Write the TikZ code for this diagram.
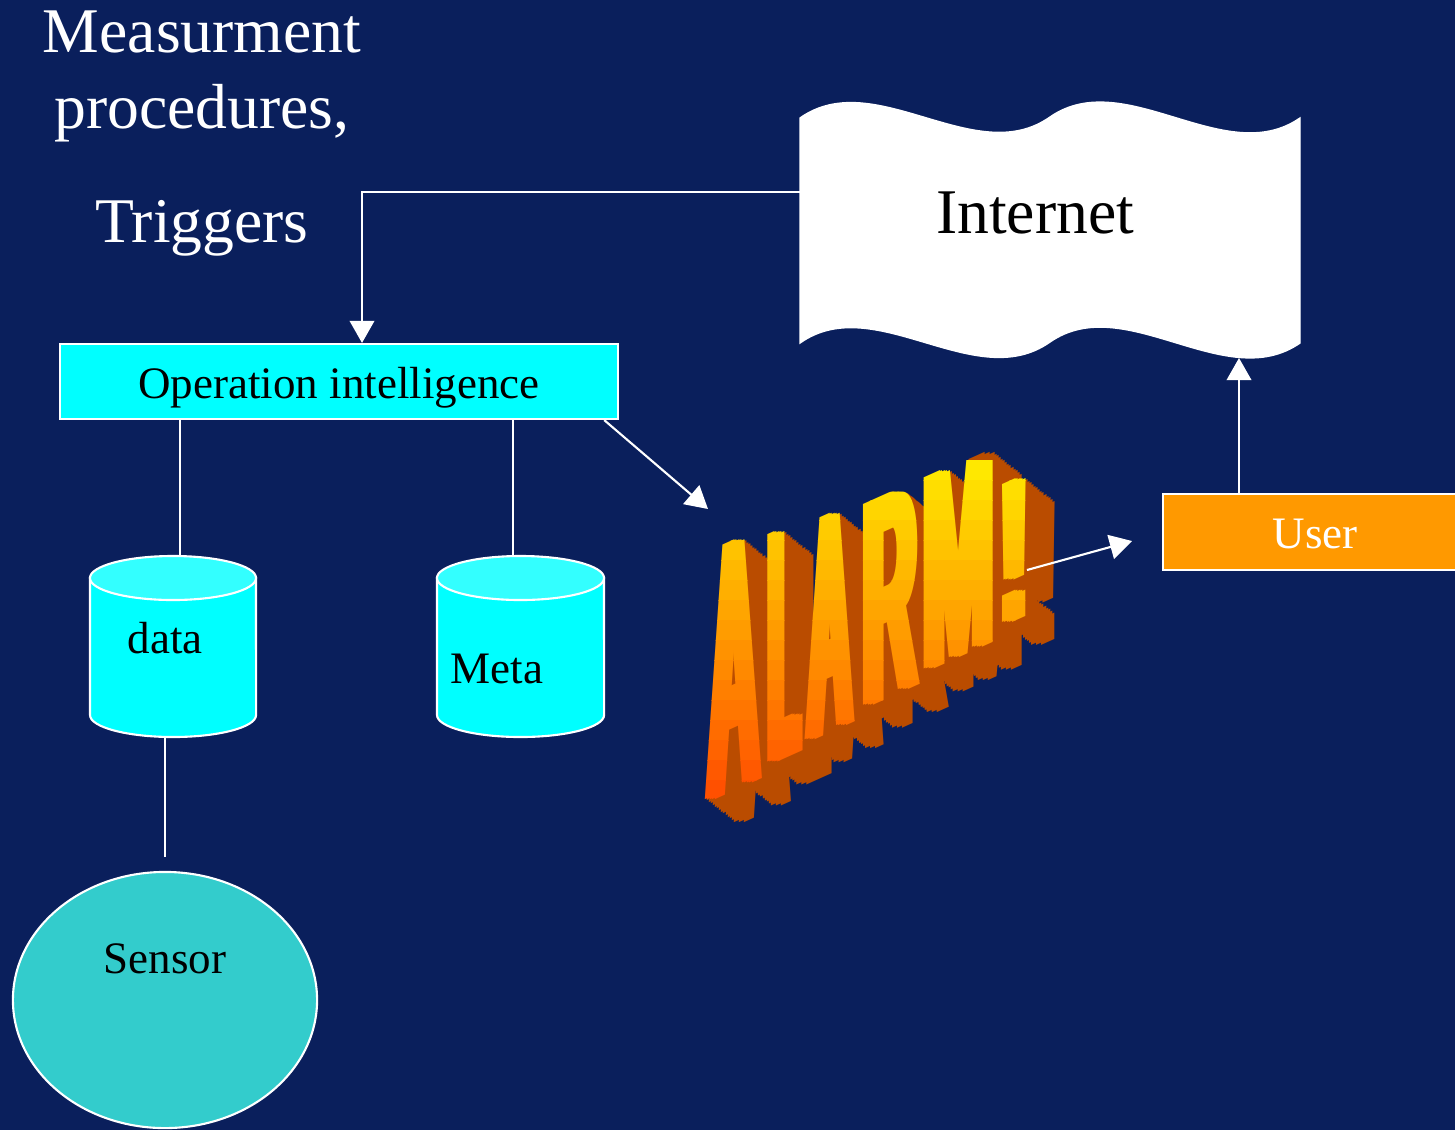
\documentclass[tikz,border=0pt]{standalone}
\usepackage{fontspec}
\setmainfont{Liberation Serif}
\newfontfamily\alarmfamily{Liberation Sans}
\usepackage{tikz}
\usetikzlibrary{arrows.meta, shapes.geometric, positioning}

\definecolor{slidebg}{RGB}{10,31,92}
\definecolor{opcyan}{RGB}{0,255,255}
\definecolor{dbtopcyan}{RGB}{51,255,255}
\definecolor{sensorteal}{RGB}{51,204,204}
\definecolor{userorange}{RGB}{255,153,0}
\definecolor{alarmtop}{RGB}{255,232,0}
\definecolor{alarmbot}{RGB}{255,70,0}
\definecolor{alarmside}{RGB}{186,76,0}

\newcommand{\alarmfont}{\alarmfamily\bfseries\fontsize{100}{100}\selectfont}
% letter / left x / baseline y / xscale / yscale
\newcommand{\alarmletters}{A/703/800/0.20/1.02, L/764/763/0.14/0.94, A/803/740/0.17/0.89, R/858/707/0.21/0.83, M/918/671/0.24/0.79, !/993/626/0.27/0.57}

\begin{document}
\begin{tikzpicture}[x=0.01cm, y=-0.01cm,
    link/.style={white, line width=0.6pt},
    arr/.style={link, -{Triangle[length=6.3pt, width=7pt]}},
    bigtext/.style={font=\fontsize{18.1}{21.6}\selectfont},
    smalltext/.style={font=\fontsize{12.8}{15}\selectfont},
    opbox/.style={draw=white, line width=0.6pt, fill=opcyan, smalltext, minimum width=5.58cm, minimum height=0.75cm, text height=0.33cm, text depth=0pt, inner sep=0pt},
    userbox/.style={draw=white, line width=0.6pt, fill=userorange, text=white, smalltext, minimum width=3.04cm, minimum height=0.76cm, text height=0.33cm, text depth=0pt, inner sep=0pt},
    dbbody/.style={draw=white, line width=0.6pt, fill=opcyan},
    dbtop/.style={draw=white, line width=0.6pt, fill=dbtopcyan},
    sensorell/.style={ellipse, draw=white, line width=0.6pt, fill=sensorteal, minimum width=3.04cm, minimum height=2.56cm, inner sep=0pt},
    alarmletter/.style={font=\alarmfont, anchor=base west, inner sep=0pt, outer sep=0pt, transform shape}]

    % Slide background
    \useasboundingbox (0,0) rectangle (1455,1130);
    \fill[slidebg] (0,0) rectangle (1455,1130);

    % Heading
    \node[bigtext, text=white, align=center, anchor=north, inner sep=0pt] (title) at (202,10) {Measurment\\procedures,\\[11pt]Triggers};

    % Internet banner
    \filldraw[fill=white, draw=white] (800,118) .. controls (875,65) and (975,170) .. (1050,117)
        .. controls (1125,65) and (1225,170) .. (1300,118) -- (1300,343)
        .. controls (1225,395) and (1125,290) .. (1050,342)
        .. controls (975,395) and (875,290) .. (800,343) -- cycle;
    \node[bigtext, anchor=base] (inet) at (1035,233) {Internet};
    \coordinate (inetwest) at (800,192);
    \coordinate (inetbot) at (1239,358);

    % Operation intelligence
    \node[opbox] (opint) at (339,381.5) {Operation intelligence};
    \draw[arr] (inetwest) -| ([xshift=0.23cm]opint.north);

    % Data stores
    \filldraw[dbbody] (90,578) -- (90,715) arc[start angle=180, end angle=360, x radius=0.83cm, y radius=0.22cm] -- (256,578) -- cycle;
    \filldraw[dbtop] (173,578) ellipse [x radius=0.83cm, y radius=0.22cm];
    \filldraw[dbbody] (437,578) -- (437,715) arc[start angle=180, end angle=360, x radius=0.835cm, y radius=0.22cm] -- (604,578) -- cycle;
    \filldraw[dbtop] (520.5,578) ellipse [x radius=0.835cm, y radius=0.22cm];
    \node[smalltext, anchor=base] (datalbl) at (165,653) {data};
    \node[smalltext, anchor=base] (metalbl) at (497,683) {Meta};
    \coordinate (datatop) at (180,556);
    \coordinate (databot) at (165,737);
    \coordinate (metatop) at (513,556);
    \draw[link] (opint.south -| datatop) -- (datatop);
    \draw[link] (opint.south -| metatop) -- (metatop);

    % Sensor
    \node[sensorell] (sensor) at (165,1000) {};
    \node[smalltext, anchor=base] (sensorlbl) at (165,973) {Sensor};
    \draw[link] (databot) -- ([yshift=0.14cm]sensor.north);

    % ALARM! extrusion
    \foreach \ltr/\px/\py/\sx/\sy [count=\i] in \alarmletters
        \foreach \k in {14,...,1}
            \foreach \dx in {0,5,10}
                \node[alarmletter, text=alarmside, shift={(\px+\dx+2.1*\k,\py+1.65*\k)}, yslant=0.45, xscale=\sx, yscale=\sy] (alarmext\i-\k) at (0,0) {\ltr};
    % ALARM! front, shaded in bands
    \foreach \b in {0,...,18}{
        \pgfmathsetmacro\bandy{460+20*\b}
        \pgfmathsetmacro\bandpct{min(100,max(0,(\bandy+10-470)/340*100))}
        \begin{scope}
            \clip (690,\bandy) rectangle (1070,\bandy+20.5);
            \foreach \ltr/\px/\py/\sx/\sy [count=\i] in \alarmletters
                \foreach \dx in {0,2.5,5,7.5,10}
                    \node[alarmletter, text=alarmbot!\bandpct!alarmtop, shift={(\px+\dx,\py)}, yslant=0.45, xscale=\sx, yscale=\sy] (alarmfront\b-\i) at (0,0) {\ltr};
        \end{scope}
    }

    % User
    \node[userbox] (user) at (1315,532) {User};
    \draw[arr] (user.north -| inetbot) -- (inetbot);

    % Alarm paths
    \coordinate (alarmin) at (708,509);
    \coordinate (alarmout) at (1027,570);
    \coordinate (userin) at (1132,541);
    \draw[arr] ([xshift=-0.15cm]opint.south east) -- (alarmin);
    \draw[arr] (alarmout) -- (userin);
\end{tikzpicture}
\end{document}
